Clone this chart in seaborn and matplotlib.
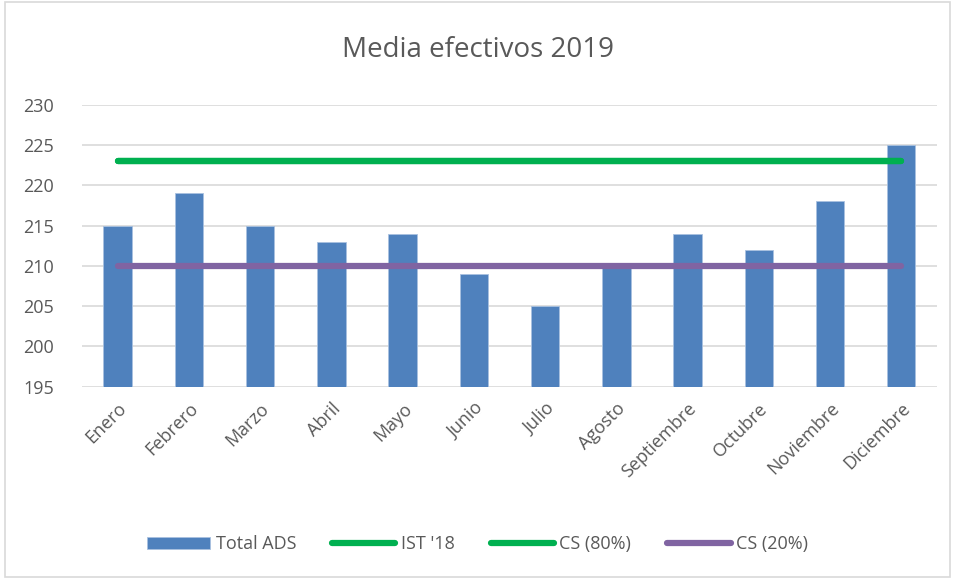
import numpy as np
import pandas as pd
import seaborn as sns
import matplotlib.pyplot as plt
from matplotlib.patches import Rectangle

# data
meses = ['Enero', 'Febrero', 'Marzo', 'Abril', 'Mayo', 'Junio', 'Julio',
         'Agosto', 'Septiembre', 'Octubre', 'Noviembre', 'Diciembre']
total_ads = [215, 219, 215, 213, 214, 209, 205, 210, 214, 212, 218, 225]
ist_18 = [223] * 12
cs_80 = [223] * 12
cs_20 = [210] * 12

df = pd.DataFrame({'mes': meses, 'Total ADS': total_ads})

sns.set_style('white')
plt.rcParams['font.family'] = ['Open Sans', 'DejaVu Sans']
gris = '#595959'

fig = plt.figure(figsize=(9.55, 5.79), dpi=100)
ax = fig.add_axes([0.086, 0.332, 0.895, 0.487])

sns.barplot(data=df, x='mes', y='Total ADS', color='#4f81bd', saturation=1,
            width=0.4, ax=ax, label='Total ADS', zorder=2,
            edgecolor='#a9c1e0', linewidth=0.6)

xs = np.arange(len(meses))
sns.lineplot(x=xs, y=ist_18, color='#00b050', lw=4.5, ax=ax, label="IST '18",
             solid_capstyle='round', zorder=3)
sns.lineplot(x=xs, y=cs_80, color='#00b050', lw=4.5, ax=ax, label='CS (80%)',
             solid_capstyle='round', zorder=3)
sns.lineplot(x=xs, y=cs_20, color='#8064a2', lw=4.5, ax=ax, label='CS (20%)',
             solid_capstyle='round', zorder=3)

ax.set_ylim(195, 230)
ax.set_xlim(-0.5, 11.5)
ax.set_yticks(range(195, 231, 5))
ax.yaxis.grid(True, color='#d9d9d9', lw=1.2, zorder=0)
ax.set_axisbelow(True)
for s in ax.spines.values():
    s.set_visible(False)
ax.set_xlabel('')
ax.set_ylabel('')
ax.tick_params(axis='both', length=0, colors=gris, labelsize=13)
ax.tick_params(axis='y', pad=20)
ax.tick_params(axis='x', pad=9)
plt.setp(ax.get_xticklabels(), rotation=45, ha='right', rotation_mode='anchor')

fig.text(0.5, 0.913, 'Media efectivos 2019', ha='center', va='center',
         fontsize=20, color=gris)

h, l = ax.get_legend_handles_labels()
orden = [l.index(n) for n in ['Total ADS', "IST '18", 'CS (80%)', 'CS (20%)']]
ax.legend([h[i] for i in orden], [l[i] for i in orden], loc='center',
          bbox_to_anchor=(0.5, 0.06), bbox_transform=fig.transFigure,
          ncol=4, frameon=False, fontsize=13, labelcolor=gris,
          handlelength=3.5, handletextpad=0.3, columnspacing=2.0)

fig.patches.append(Rectangle((0.005, 0.003), 0.99, 0.994, transform=fig.transFigure,
                             fill=False, ec='#d9d9d9', lw=1.2))

fig.savefig('out.png', dpi=100)
